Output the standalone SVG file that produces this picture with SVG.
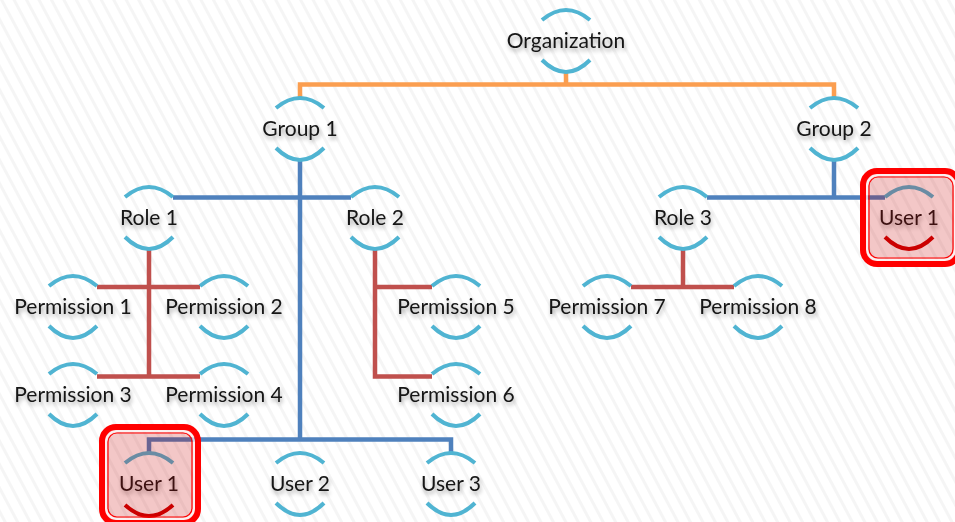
<svg xmlns="http://www.w3.org/2000/svg" width="955" height="522" viewBox="0 0 955 522">
<style>
text{font-family:"Lato","Open Sans","Liberation Sans",sans-serif;font-size:21px;fill:#141414;text-anchor:middle;filter:url(#ts)}
.arc{fill:none;stroke:#50b4d2;stroke-width:4}
.c{fill:none;stroke-width:4.5}
.o{stroke:#fb9e50}.b{stroke:#4f81bd}.r{stroke:#c0504d}
.hl{fill:#c80000;fill-opacity:.22;stroke:none}
.hl1{fill:none;stroke:#ff0000;stroke-width:6}
.hl2{fill:none;stroke:#ff0000;stroke-width:1.2}
.hlw{fill:none;stroke:#ffffff;stroke-opacity:.75;stroke-width:2}
.low{fill:none;stroke:#cc0000;stroke-width:4}
</style>
<defs>
<pattern id="bg" width="11" height="11" patternUnits="userSpaceOnUse" patternTransform="rotate(-28)">
<rect width="11" height="11" fill="#ffffff"/>
<rect width="3" height="11" fill="#f5f5f5"/>
</pattern>
<filter id="ts" x="-20%" y="-40%" width="140%" height="190%">
<feGaussianBlur in="SourceAlpha" stdDeviation="2"/>
<feOffset dx="1" dy="2.5"/>
<feComponentTransfer><feFuncA type="linear" slope=".35"/></feComponentTransfer>
<feMerge><feMergeNode/><feMergeNode in="SourceGraphic"/></feMerge>
</filter>
<path id="t" class="arc" d="M-24-21Q0-41 24-21"/>
<path id="d" class="arc" d="M-24 19Q0 43 24 19"/>
</defs>
<rect width="955" height="522" fill="url(#bg)"/>
<g id="connectors">
<path class="c o" d="M300 97V84.500H834V97M566 72V84"/>
<path class="c b" d="M173 197.500H351M300 160V439.500M149 452V439.500H451V452M834 160V197M707 197.500H885"/>
<path class="c r" d="M149 250V376.500M97 287H200M97 376.500H200M375 250V376.500H432M375 287H432M683 250V287M631 287H734"/>
</g>
<g id="organization" transform="translate(566 41)"><use href="#t"/><use href="#d"/><text y="7">Organization</text></g>
<g id="group1" transform="translate(300 129)"><use href="#t"/><use href="#d"/><text y="7">Group 1</text></g>
<g id="group2" transform="translate(834 129)"><use href="#t"/><use href="#d"/><text y="7">Group 2</text></g>
<g id="role1" transform="translate(149 218)"><use href="#t"/><use href="#d"/><text y="7">Role 1</text></g>
<g id="role2" transform="translate(375 218)"><use href="#t"/><use href="#d"/><text y="7">Role 2</text></g>
<g id="role3" transform="translate(683 218)"><use href="#t"/><use href="#d"/><text y="7">Role 3</text></g>
<g id="perm1" transform="translate(73 307)"><use href="#t"/><use href="#d"/><text y="7">Permission 1</text></g>
<g id="perm2" transform="translate(224 307)"><use href="#t"/><use href="#d"/><text y="7">Permission 2</text></g>
<g id="perm3" transform="translate(73 395)"><use href="#t"/><use href="#d"/><text y="7">Permission 3</text></g>
<g id="perm4" transform="translate(224 395)"><use href="#t"/><use href="#d"/><text y="7">Permission 4</text></g>
<g id="perm5" transform="translate(456 307)"><use href="#t"/><use href="#d"/><text y="7">Permission 5</text></g>
<g id="perm6" transform="translate(456 395)"><use href="#t"/><use href="#d"/><text y="7">Permission 6</text></g>
<g id="perm7" transform="translate(607 307)"><use href="#t"/><use href="#d"/><text y="7">Permission 7</text></g>
<g id="perm8" transform="translate(758 307)"><use href="#t"/><use href="#d"/><text y="7">Permission 8</text></g>
<g id="user2" transform="translate(300 484)"><use href="#t"/><use href="#d"/><text y="7">User 2</text></g>
<g id="user3" transform="translate(451 484)"><use href="#t"/><use href="#d"/><text y="7">User 3</text></g>
<g id="user1a" transform="translate(149 484)"><use href="#t"/><path class="low" d="M-24 21Q0 43 24 21"/><text y="7">User 1</text>
<rect class="hl" x="-47" y="-57" width="96" height="96" rx="14"/><rect class="hlw" x="-43" y="-53" width="88" height="88" rx="11"/><rect class="hl2" x="-41" y="-51" width="84" height="84" rx="9"/><rect class="hl1" x="-47" y="-57" width="96" height="96" rx="14"/></g>
<g id="user1b" transform="translate(909 218)"><use href="#t"/><path class="low" d="M-24 19Q0 43 24 19"/><text y="7">User 1</text>
<rect class="hl" x="-46" y="-47" width="96" height="93" rx="14"/><rect class="hlw" x="-42" y="-43" width="88" height="85" rx="11"/><rect class="hl2" x="-40" y="-41" width="84" height="81" rx="9"/><rect class="hl1" x="-46" y="-47" width="96" height="93" rx="14"/></g>
</svg>
